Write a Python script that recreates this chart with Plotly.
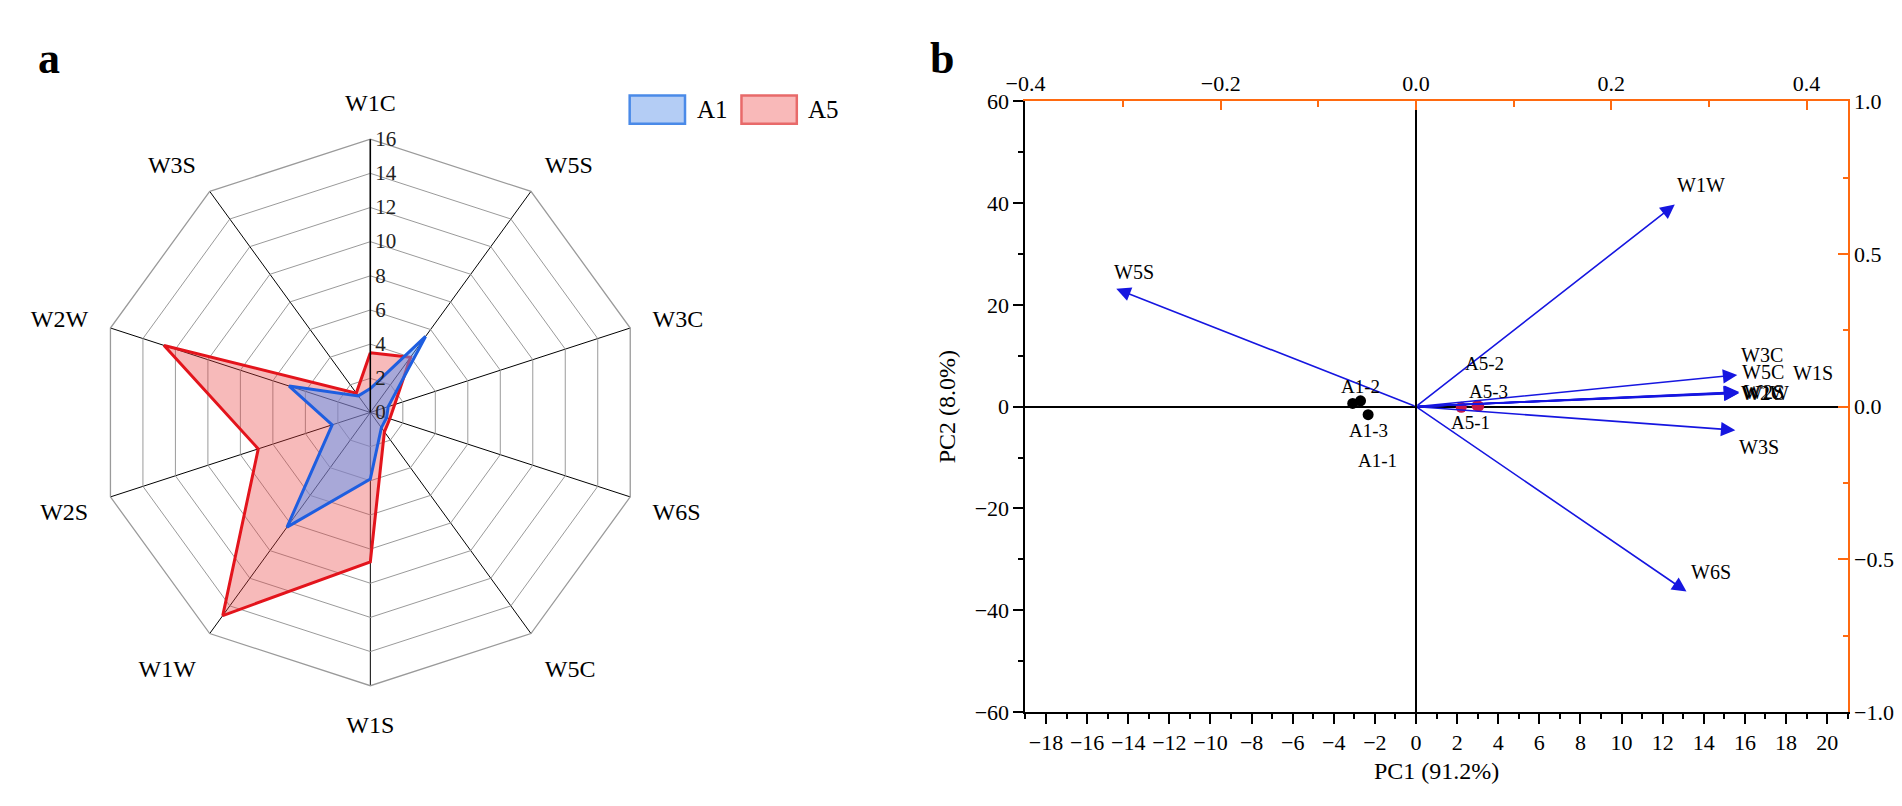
"""Radar chart of sensor responses (a) and PCA biplot (b)."""

import plotly.graph_objects as go

# ---- panel a: radar data ----
sensors = ["W1C", "W5S", "W3C", "W6S", "W5C", "W1S", "W1W", "W2S", "W2W", "W3S"]
a1_values = [1.4, 5.5, 1.1, 1.0, 1.1, 3.9, 8.3, 2.35, 5.0, 1.2]
a5_values = [3.5, 4.0, 1.5, 1.2, 1.4, 8.75, 14.7, 6.9, 12.7, 1.4]
radial_ticks = [0, 2, 4, 6, 8, 10, 12, 14, 16]
groups = ["A1", "A5"]

# ---- panel b: PCA loadings (top / right axes) ----
variables = ["W1C", "W5S", "W3C", "W6S", "W5C", "W1S", "W1W", "W2S", "W2W", "W3S"]
loading_pc1 = [0.330, -0.307, 0.329, 0.277, 0.330, 0.331, 0.265, 0.331, 0.330, 0.327]
loading_pc2 = [0.044, 0.386, 0.104, -0.606, 0.046, 0.048, 0.662, 0.045, 0.047, -0.077]

# ---- panel b: PCA scores (bottom / left axes) ----
samples_a1 = ["A1-1", "A1-2", "A1-3"]
score_a1_pc1 = [-3.08, -2.70, -2.33]
score_a1_pc2 = [0.63, 1.14, -1.59]
samples_a5 = ["A5-1", "A5-2", "A5-3"]
score_a5_pc1 = [2.20, 2.97, 3.05]
score_a5_pc2 = [-0.13, 0.19, 0.10]

x_ticks = list(range(-18, 21, 2))
y_ticks = [-60, -40, -20, 0, 20, 40, 60]
x2_ticks = [-0.4, -0.2, 0.0, 0.2, 0.4]
y2_ticks = [-1.0, -0.5, 0.0, 0.5, 1.0]

SERIF = "Liberation Serif"
ORANGE = "#FF6A10"
ARROW_BLUE = "#1616E0"

group_style = {
    "A1": dict(line="#1E5EE0", fill="rgba(90,150,245,0.5)",
               box_line="#4A8AE8", box_fill="#B4CDF5"),
    "A5": dict(line="#E3141C", fill="rgba(232,64,64,0.36)",
               box_line="#E86A6A", box_fill="#F9B9B9"),
}

# label offsets in pixels (xshift, yshift)
var_label_pos = {
    "W1C": (2, 0),
    "W5S": (-4, 17),
    "W3C": (2, 20),
    "W6S": (2, 20),
    "W5C": (2, 21),
    "W1S": (52, 19),
    "W1W": (0, 20),
    "W2S": (3, 1),
    "W2W": (1, -1),
    "W3S": (2, -17),
}
sample_label_pos = {
    "A1-1": (25, -57),
    "A1-2": (0, 14),
    "A1-3": (0, -16),
    "A5-1": (9, -15),
    "A5-2": (7, 42),
    "A5-3": (10, 15),
}

fig = go.Figure()

# radar: draw A5 first so the blue fill sits on top
for name, values in [("A5", a5_values), ("A1", a1_values)]:
    style = group_style[name]
    fig.add_trace(
        go.Scatterpolar(
            r=values + values[:1],
            theta=sensors + sensors[:1],
            name=name,
            fill="toself",
            fillcolor=style["fill"],
            line=dict(color=style["line"], width=3),
            mode="lines",
            showlegend=False,
        )
    )

# biplot: invisible loading trace so the top/right axes exist
fig.add_trace(
    go.Scatter(
        x=loading_pc1,
        y=loading_pc2,
        xaxis="x2",
        yaxis="y2",
        mode="markers",
        marker=dict(opacity=0),
        showlegend=False,
        hoverinfo="skip",
    )
)
fig.add_trace(
    go.Scatter(
        x=score_a1_pc1,
        y=score_a1_pc2,
        mode="markers",
        marker=dict(color="black", size=11),
        showlegend=False,
    )
)
fig.add_trace(
    go.Scatter(
        x=score_a5_pc1,
        y=score_a5_pc2,
        mode="markers",
        marker=dict(color="#C8174A", size=11),
        showlegend=False,
    )
)

annotations = []
for name, lx, ly in zip(variables, loading_pc1, loading_pc2):
    annotations.append(
        dict(
            x=lx, y=ly, ax=0, ay=0,
            xref="x2", yref="y2", axref="x2", ayref="y2",
            text="", showarrow=True,
            arrowhead=2, arrowsize=1.8, arrowwidth=1.6,
            arrowcolor=ARROW_BLUE,
        )
    )
    dx, dy = var_label_pos[name]
    annotations.append(
        dict(
            x=lx, y=ly, xref="x2", yref="y2",
            text=name, showarrow=False,
            xanchor="left", xshift=dx, yshift=dy,
            font=dict(family=SERIF, size=20, color="black"),
        )
    )

for names, xs, ys in [
    (samples_a1, score_a1_pc1, score_a1_pc2),
    (samples_a5, score_a5_pc1, score_a5_pc2),
]:
    for name, sx, sy in zip(names, xs, ys):
        dx, dy = sample_label_pos[name]
        annotations.append(
            dict(
                x=sx, y=sy, xref="x", yref="y",
                text=name, showarrow=False,
                xshift=dx, yshift=dy,
                font=dict(family=SERIF, size=19, color="black"),
            )
        )

# hand-drawn legend boxes for the radar (plotly's legend symbols are tiny)
shapes = []
legend_x0 = [0.3197, 0.3791]
for name, x0 in zip(groups, legend_x0):
    style = group_style[name]
    shapes.append(
        dict(
            type="rect", xref="paper", yref="paper",
            x0=x0, x1=x0 + 0.0294, y0=0.8672, y1=0.9032,
            line=dict(color=style["box_line"], width=2.5),
            fillcolor=style["box_fill"],
        )
    )
    annotations.append(
        dict(
            x=x0 + 0.0345, y=0.885, xref="paper", yref="paper",
            text=name, showarrow=False, xanchor="left", yanchor="middle",
            font=dict(family=SERIF, size=25, color="black"),
        )
    )

annotations += [
    dict(x=0.004, y=0.985, xref="paper", yref="paper", text="<b>a</b>",
         showarrow=False, xanchor="left", yanchor="top",
         font=dict(family=SERIF, size=44, color="black")),
    dict(x=0.478, y=0.985, xref="paper", yref="paper", text="<b>b</b>",
         showarrow=False, xanchor="left", yanchor="top",
         font=dict(family=SERIF, size=44, color="black")),
]

fig.update_layout(
    width=1902,
    height=806,
    autosize=False,
    margin=dict(l=0, r=0, t=0, b=0),
    paper_bgcolor="white",
    plot_bgcolor="white",
    font=dict(family=SERIF, color="black"),
    annotations=annotations,
    shapes=shapes,
    showlegend=False,
    polar=dict(
        domain=dict(x=[0.0336, 0.3302], y=[0.1476, 0.8474]),
        bgcolor="white",
        gridshape="linear",
        angularaxis=dict(
            direction="clockwise",
            rotation=90,
            showgrid=True,
            gridcolor="black",
            gridwidth=1.3,
            showline=True,
            linecolor="#9a9a9a",
            linewidth=1.3,
            ticks="outside",
            ticklen=18,
            tickcolor="rgba(0,0,0,0)",
            tickfont=dict(family=SERIF, size=24, color="black"),
        ),
        radialaxis=dict(
            range=[0, 16],
            tickvals=radial_ticks,
            angle=90,
            tickangle=90,
            side="clockwise",
            showline=True,
            linecolor="black",
            linewidth=1.5,
            showgrid=True,
            gridcolor="#9a9a9a",
            gridwidth=1.3,
            ticks="",
            tickfont=dict(family=SERIF, size=21, color="#222"),
        ),
    ),
    xaxis=dict(
        domain=[0.530, 0.9669],
        anchor="y",
        range=[-19, 21],
        tickvals=x_ticks,
        ticks="outside",
        ticklen=10,
        tickwidth=2,
        tickcolor="black",
        minor=dict(dtick=1, ticks="outside", ticklen=5, tickwidth=2, tickcolor="black"),
        showline=True,
        linecolor="black",
        linewidth=2,
        showgrid=False,
        zeroline=True,
        zerolinecolor="black",
        zerolinewidth=2,
        tickfont=dict(family=SERIF, size=22, color="black"),
        title=dict(text="PC1 (91.2%)", font=dict(family=SERIF, size=24), standoff=8),
    ),
    yaxis=dict(
        domain=[0.1141, 0.8958],
        anchor="x",
        range=[-60, 60],
        tickvals=y_ticks,
        ticks="outside",
        ticklen=10,
        tickwidth=2,
        tickcolor="black",
        minor=dict(dtick=10, ticks="outside", ticklen=5, tickwidth=2, tickcolor="black"),
        showline=True,
        linecolor="black",
        linewidth=2,
        showgrid=False,
        zeroline=True,
        zerolinecolor="black",
        zerolinewidth=2,
        tickfont=dict(family=SERIF, size=22, color="black"),
        title=dict(text="PC2 (8.0%)", font=dict(family=SERIF, size=24), standoff=12),
    ),
    xaxis2=dict(
        overlaying="x",
        side="top",
        anchor="y",
        range=[-0.4, 0.4421],
        tickvals=x2_ticks,
        tickformat=".1f",
        ticks="inside",
        ticklen=9,
        tickwidth=2,
        tickcolor=ORANGE,
        minor=dict(dtick=0.1, tick0=0, ticks="inside", ticklen=6, tickwidth=2, tickcolor=ORANGE),
        showline=True,
        linecolor=ORANGE,
        linewidth=2,
        showgrid=False,
        zeroline=False,
        tickfont=dict(family=SERIF, size=22, color="black"),
    ),
    yaxis2=dict(
        overlaying="y",
        side="right",
        anchor="x",
        range=[-1, 1],
        tickvals=y2_ticks,
        tickformat=".1f",
        ticks="inside",
        ticklen=10,
        tickwidth=2,
        tickcolor=ORANGE,
        minor=dict(dtick=0.25, tick0=0, ticks="inside", ticklen=5, tickwidth=2, tickcolor=ORANGE),
        showline=True,
        linecolor=ORANGE,
        linewidth=2,
        showgrid=False,
        zeroline=False,
        tickfont=dict(family=SERIF, size=22, color="black"),
    ),
)

fig.write_html("out.html")
